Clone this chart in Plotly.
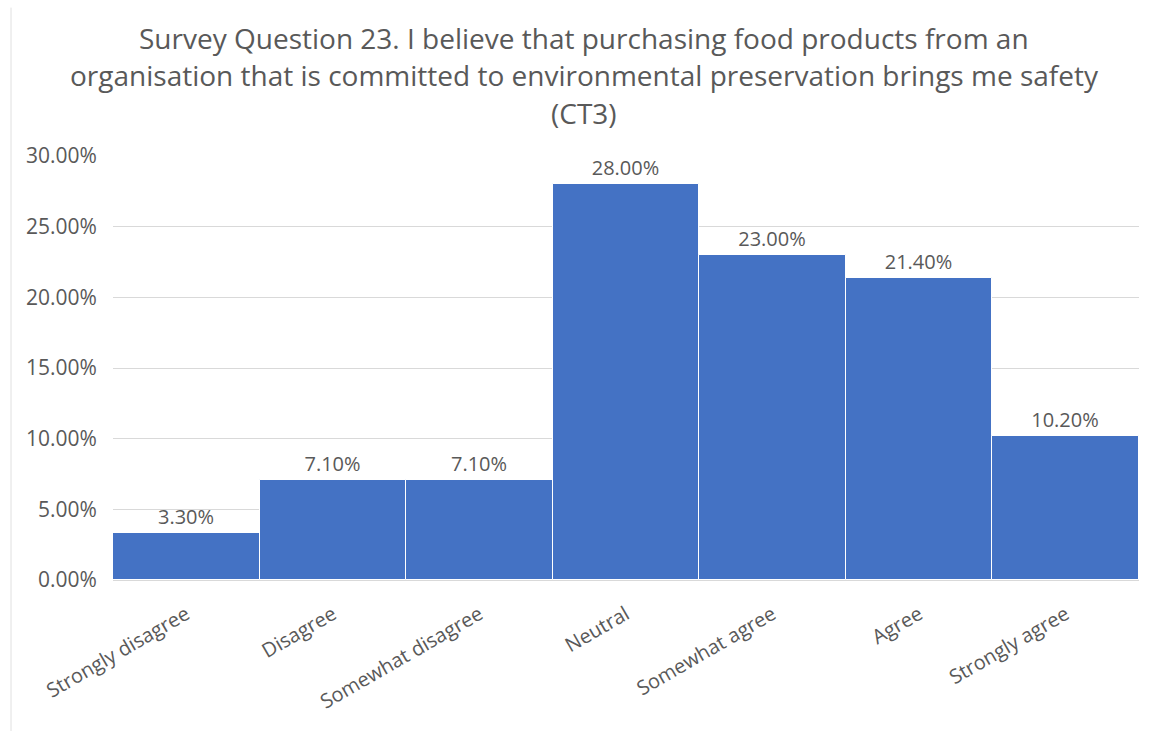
import plotly.graph_objects as go

categories = ["Strongly disagree", "Disagree", "Somewhat disagree", "Neutral",
              "Somewhat agree", "Agree", "Strongly agree"]
shares = [3.30, 7.10, 7.10, 28.00, 23.00, 21.40, 10.20]
y_ticks = [0, 5, 10, 15, 20, 25, 30]
y_tick_labels = [f"{v:.2f}%" for v in y_ticks]

title_lines = [
    "Survey Question 23. I believe that purchasing food products from an",
    "organisation that is committed to environmental preservation brings me safety",
    "(CT3)",
]

text_color = "#595959"
font_family = "Open Sans, DejaVu Sans, sans-serif"

# plot area geometry (pixels) used to place the title lines in paper units
plot_left, plot_right = 113, 1139
plot_top, plot_bottom = 156, 580
plot_w = plot_right - plot_left
plot_h = plot_bottom - plot_top
title_center_x_px = 584
title_centers_px = [38, 75, 113]

fig = go.Figure(
    go.Bar(
        x=categories,
        y=shares,
        marker=dict(color="#4472C4", line=dict(color="#ffffff", width=1)),
        text=[f"{v:.2f}%" for v in shares],
        textposition="outside",
        cliponaxis=False,
        textfont=dict(size=20, color=text_color, family=font_family),
        hoverinfo="skip",
    )
)

annotations = [
    dict(
        text=line,
        xref="paper", yref="paper",
        x=(title_center_x_px - plot_left) / plot_w,
        y=(plot_bottom - cy) / plot_h,
        xanchor="center", yanchor="middle",
        showarrow=False,
        font=dict(size=28, color=text_color, family=font_family),
    )
    for line, cy in zip(title_lines, title_centers_px)
]

fig.update_layout(
    width=1149,
    height=731,
    margin=dict(l=plot_left, r=1149 - plot_right, t=plot_top, b=731 - plot_bottom),
    paper_bgcolor="white",
    plot_bgcolor="white",
    bargap=0,
    showlegend=False,
    annotations=annotations,
    xaxis=dict(
        tickangle=-30,
        tickfont=dict(size=20, color=text_color, family=font_family),
        showline=True,
        linecolor="#d9d9d9",
        ticks="outside",
        ticklen=14,
        tickcolor="rgba(0,0,0,0)",
    ),
    yaxis=dict(
        range=[0, 30],
        tickvals=y_ticks,
        ticktext=y_tick_labels,
        tickfont=dict(size=21, color=text_color, family=font_family),
        gridcolor="#d9d9d9",
        gridwidth=1,
        zeroline=False,
        showline=False,
        ticks="outside",
        ticklen=11,
        tickcolor="rgba(0,0,0,0)",
    ),
    shapes=[
        dict(type="line", xref="paper", yref="paper", x0=-0.0994, x1=-0.0994,
             y0=-0.4, y1=1.35, line=dict(color="#e0e0e0", width=1)),
    ],
)

fig.write_html("out.html")
